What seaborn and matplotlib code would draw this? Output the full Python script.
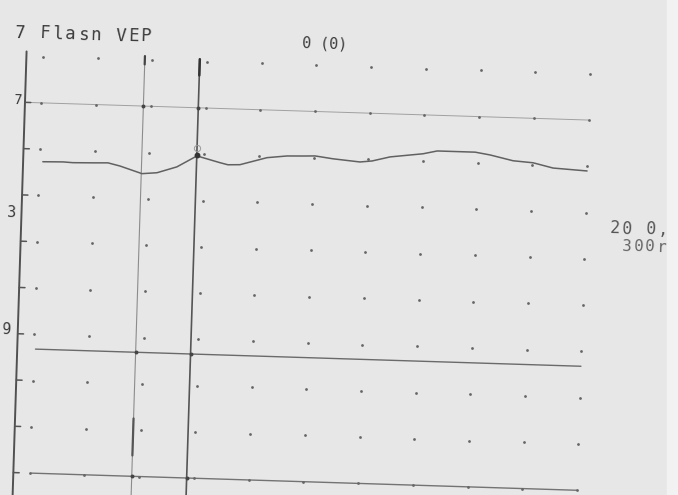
import numpy as np
import pandas as pd
import matplotlib
matplotlib.use("Agg")
import matplotlib.pyplot as plt
from matplotlib.transforms import Affine2D
import seaborn as sns

# ---------------- data ----------------
# time axis in ms, amplitude in grid divisions (bottom reference line = 0)
trace_ms = [1.8, 12.8, 18.3, 29.2, 37.5, 44.1, 56.3, 64.5, 75.3, 86.1, 98.8,
            103.2, 109.8, 124.5, 135.4, 144.2, 150.8, 160.7, 175.5, 182.1,
            191.9, 209.9, 217.6, 238.4, 246.6, 259.3, 270.3, 281.3, 300.0]
trace_amp = [6.73, 6.74, 6.73, 6.74, 6.75, 6.69, 6.54, 6.57, 6.71, 6.96, 6.83,
             6.79, 6.80, 6.97, 7.02, 7.03, 7.04, 6.99, 6.94, 6.97,
             7.07, 7.16, 7.23, 7.23, 7.18, 7.07, 7.04, 6.94, 6.90]
marker_ms = [55.9, 86.0]          # cursor lines (trough, peak)
ref_levels = [8.0, 2.68, 0.0]     # horizontal reference lines
grid_ms = list(range(0, 301, 30))
grid_div = list(range(0, 10))
title_text = "7 Flasn VEP"
count_text = "0 (0)"
right_texts = ["20 0,", "300r"]
axis_labels = ["7", "3", "9"]
axis_label_div = [8.05, 5.6, 3.08]

# ---------------- figure ----------------
sns.set_theme(style="white")
plt.rcParams["font.family"] = ["DejaVu Sans Mono", "DejaVu Sans"]

fig = plt.figure(figsize=(6.78, 4.95), dpi=100)
paper = "#e7e7e7"
fig.patch.set_facecolor(paper)
ax = fig.add_axes([0, 0, 1, 1])
ax.set_facecolor(paper)
ax.axis("off")

# the scanned sheet is slightly rotated clockwise
T = ax.transData + Affine2D().rotate_deg_around(339, 247.5, -1.8)
ROT = -1.8
PX = 1.8253  # px per ms on the sheet

# dot grid
gx, gy = np.meshgrid(grid_ms, grid_div)
dots = pd.DataFrame({"t": gx.ravel(), "d": gy.ravel()})
sns.scatterplot(data=dots, x="t", y="d", ax=ax, s=4, color="#666666",
                linewidth=0, transform=T, legend=False, zorder=2)
# intersections of cursors with reference lines
inter = pd.DataFrame({"t": [m for m in marker_ms for _ in ref_levels],
                      "d": [r for _ in marker_ms for r in ref_levels]})
sns.scatterplot(data=inter, x="t", y="d", ax=ax, s=8, color="#444444",
                linewidth=0, transform=T, legend=False, zorder=3)

# reference lines
ax.plot([-9, 300], [ref_levels[0]] * 2, color="#a0a0a0", lw=0.7, transform=T, zorder=1)
ax.plot([1, 300], [ref_levels[1]] * 2, color="#6a6a6a", lw=1.0, transform=T, zorder=1)
ax.plot([1, 300], [ref_levels[2]] * 2, color="#737373", lw=1.0, transform=T, zorder=1)

# left axis and its ticks
ax.plot([-9, -9], [9.1, -0.6], color="#505050", lw=1.4, transform=T, zorder=3)
for d in range(0, 9):
    ax.plot([-9, -5.8], [d, d], color="#555555", lw=1.1, transform=T, zorder=3)

# cursor lines
ax.plot([marker_ms[0]] * 2, [9.08, -0.6], color="#8c8c8c", lw=0.8, transform=T, zorder=2)
ax.plot([marker_ms[0]] * 2, [1.25, 0.45], color="#555555", lw=1.6, transform=T, zorder=2)
ax.plot([marker_ms[0]] * 2, [9.08, 8.9], color="#444444", lw=1.6, transform=T, zorder=2)
ax.plot([marker_ms[1]] * 2, [9.05, -0.6], color="#555555", lw=1.2, transform=T, zorder=2)
ax.plot([marker_ms[1]] * 2, [9.05, 8.7], color="#333333", lw=1.8, transform=T, zorder=2)

# VEP trace
sns.lineplot(x=trace_ms, y=trace_amp, ax=ax, color="#616161", lw=1.1,
             transform=T, zorder=4, legend=False)
ax.plot([marker_ms[1]], [6.97], marker="o", ms=3.2, color="#333333", transform=T, zorder=5)
ax.plot([marker_ms[1]], [7.13], marker="o", ms=4.5, mfc="none", mec="#9a9a9a",
        mew=0.7, transform=T, zorder=5)


def spaced(t0, d, s, pitch_px, size, color="#3c3c3c"):
    for i, ch in enumerate(s):
        ax.text(t0 + i * pitch_px / PX, d, ch, transform=T, rotation=ROT,
                rotation_mode="anchor", ha="left", va="center",
                fontsize=size, color=color, zorder=6)


spaced(-15.7, 9.50, title_text, 12.6, 12.5)
ax.text(141.7, 9.47, count_text, transform=T, rotation=ROT, rotation_mode="anchor",
        ha="left", va="center", fontsize=10.8, color="#3c3c3c", zorder=6)
spaced(313.6, 5.68, right_texts[0], 12.0, 12, color="#555555")
spaced(320.5, 5.30, right_texts[1], 11.5, 11.5, color="#666666")

# axis value labels
ax.text(-15.1, axis_label_div[0], axis_labels[0], transform=T, rotation=ROT,
        rotation_mode="anchor", ha="left", va="center", fontsize=10, color="#3c3c3c")
ax.text(-16.6, axis_label_div[1], axis_labels[1], transform=T, rotation=ROT,
        rotation_mode="anchor", ha="left", va="center", fontsize=11, color="#3c3c3c")
ax.text(-17.6, axis_label_div[2], axis_labels[2], transform=T, rotation=ROT,
        rotation_mode="anchor", ha="left", va="center", fontsize=11, color="#3c3c3c")

# scanner border strip on the right
fig.patches.append(plt.Rectangle((0.984, 0), 0.016, 1, transform=fig.transFigure,
                                 color="#f2f2f2", zorder=10))

ax.set_xlim(-20.27, 351.2)
ax.set_ylim(-0.266, 10.425)

fig.savefig("out.png", dpi=100, facecolor=paper)
